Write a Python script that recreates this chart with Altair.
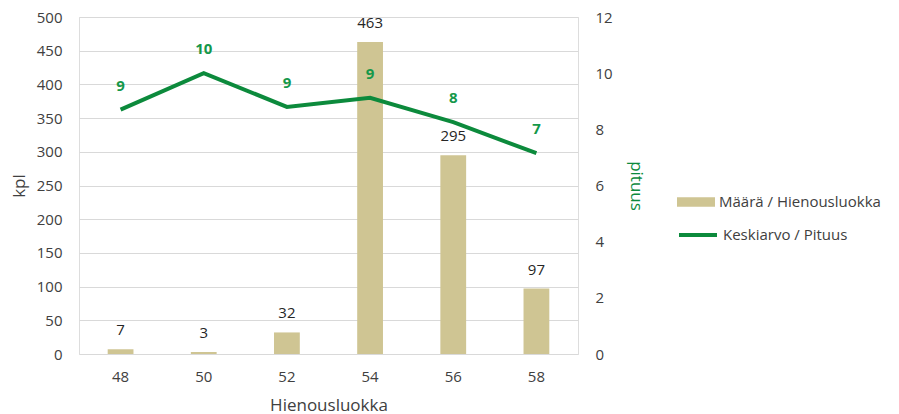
import altair as alt
import pandas as pd

categories = ["48", "50", "52", "54", "56", "58"]
counts = [7, 3, 32, 463, 295, 97]
mean_length = [8.70, 10.0, 8.80, 9.12, 8.26, 7.15]

bar_name = "Määrä / Hienousluokka"
line_name = "Keskiarvo  / Pituus"

df = pd.DataFrame({
    "luokka": categories,
    "kpl": counts,
    "pituus": mean_length,
    "bar_series": [bar_name] * len(categories),
    "line_series": [line_name] * len(categories),
})

FONT = "Open Sans"
TAN = "#CFC593"
GREEN = "#0C8A3C"
LABEL_GREEN = "#15984A"
TXT = "#404040"

x = alt.X("luokka:N", sort=categories,
          scale=alt.Scale(paddingInner=0.69, paddingOuter=0.345),
          axis=alt.Axis(title="Hienousluokka", labelAngle=0, domain=False, ticks=False,
                        labelPadding=15, titlePadding=13, labelFontSize=15, titleFontSize=17,
                        labelColor=TXT, titleColor=TXT, labelFont=FONT, titleFont=FONT,
                        titleFontWeight="normal"))

base = alt.Chart(df)

y_left = alt.Y("kpl:Q", scale=alt.Scale(domain=[0, 500]),
               axis=alt.Axis(title="kpl", values=list(range(0, 501, 50)), domain=False, ticks=False,
                             labelOverlap=False,
                             labelPadding=17, titlePadding=8, labelFontSize=15, titleFontSize=17,
                             labelColor=TXT, titleColor=TXT, labelFont=FONT, titleFont=FONT,
                             titleFontWeight="normal", gridColor="#D9D9D9", gridWidth=1.2))

bars = base.mark_bar(color=TAN).encode(
    x=x,
    y=y_left,
    fill=alt.Fill("bar_series:N", scale=alt.Scale(domain=[bar_name], range=[TAN]),
                  legend=alt.Legend(title=None, orient="none", legendX=598, legendY=166,
                                    symbolType="M-1,-0.25L1,-0.25L1,0.25L-1,0.25Z",
                                    symbolSize=1444, symbolStrokeWidth=0, labelLimit=400,
                                    labelFontSize=15, labelFont=FONT, labelColor=TXT,
                                    labelOffset=4)),
)
bar_text = base.mark_text(dy=-19, fontSize=15, font=FONT, color="#262626").encode(
    x=x, y=y_left, text="kpl:Q")

y_right = alt.Y("pituus:Q", scale=alt.Scale(domain=[0, 12]),
                axis=alt.Axis(title="pituus", orient="right", values=list(range(0, 13, 2)),
                              domain=False, ticks=False, grid=False, labelOverlap=False,
                              labelPadding=17, titlePadding=14, labelFontSize=15, titleFontSize=17,
                              labelColor=TXT, titleColor=GREEN, labelFont=FONT, titleFont=FONT,
                              titleFontWeight="normal"))

line = base.mark_line(strokeWidth=4).encode(
    x=x,
    y=y_right,
    stroke=alt.Stroke("line_series:N", scale=alt.Scale(domain=[line_name], range=[GREEN]),
                      legend=alt.Legend(title=None, orient="none", legendX=598, legendY=197,
                                        symbolType="stroke", symbolSize=1444, symbolStrokeWidth=4,
                                        labelFontSize=15, labelFont=FONT, labelColor=TXT,
                                        labelLimit=400, labelOffset=4)),
)
line_text = base.mark_text(dy=-24, fontSize=15, fontWeight="bold", font=FONT, color=LABEL_GREEN).encode(
    x=x, y=y_right, text=alt.Text("pituus:Q", format=".0f"))

left = alt.layer(bars, bar_text)
right = alt.layer(line, line_text)

chart = alt.layer(left, right).resolve_scale(y="independent").properties(
    width=499, height=337,
    autosize=alt.AutoSizeParams(type="none"),
    padding={"left": 71, "top": 9, "right": 313, "bottom": 60},
).configure_view(stroke=None).configure(background="white")

chart.save("out.html", embed_options={"renderer": "svg", "actions": False})
